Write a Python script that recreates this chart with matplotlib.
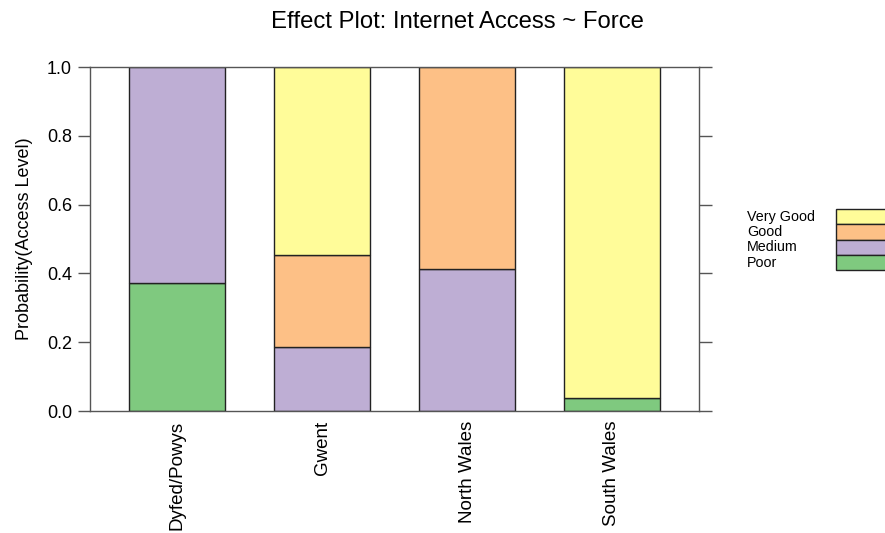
import matplotlib
matplotlib.use("Agg")
import matplotlib.pyplot as plt
from matplotlib.patches import Rectangle
import numpy as np

plt.rcParams['font.family'] = ['Liberation Sans', 'DejaVu Sans']

forces = ["Dyfed/Powys", "Gwent", "North Wales", "South Wales"]
levels = ["Poor", "Medium", "Good", "Very Good"]
poor = [0.373, 0.0, 0.0, 0.038]
medium = [0.627, 0.187, 0.414, 0.0]
good = [0.0, 0.267, 0.586, 0.0]
very_good = [0.0, 0.546, 0.0, 0.962]
colors = {"Poor": "#7FC97F", "Medium": "#BEAED4", "Good": "#FDC086", "Very Good": "#FFFC99"}
yticks = [0.0, 0.2, 0.4, 0.6, 0.8, 1.0]

series = {"Poor": poor, "Medium": medium, "Good": good, "Very Good": very_good}

fig = plt.figure(figsize=(8.85, 5.33), dpi=100)
ax = fig.add_axes([90 / 885, 1 - 411 / 533, 609 / 885, 344 / 533])

x = np.arange(len(forces))
bottom = np.zeros(len(forces))
for lvl in levels:
    vals = np.array(series[lvl])
    mask = vals > 0
    ax.bar(x[mask], vals[mask], bottom=bottom[mask], width=0.66,
           color=colors[lvl], edgecolor="#222222", linewidth=1.0, zorder=2)
    bottom += vals

ax.set_xlim(-0.6, 3.6)
ax.set_ylim(0, 1)
ax.set_xticks(x)
ax.set_xticklabels(forces, rotation=90, fontsize=13.5)
ax.set_yticks(yticks)
ax.set_yticklabels([f"{v:.1f}" for v in yticks], fontsize=13)
ax.tick_params(axis="x", length=0, pad=7)
ax.tick_params(axis="y", direction="out", length=9, width=1, color="#555555",
               right=True, left=True, pad=4)
for s in ax.spines.values():
    s.set_color("#555555")
    s.set_linewidth(1.0)
ax.set_ylabel("Probability(Access Level)", fontsize=13, labelpad=10)
fig.text(457 / 885, 1 - 22 / 533, "Effect Plot: Internet Access ~ Force",
         ha="center", va="center", fontsize=17.2)

# legend key drawn in figure coordinates, boxes run to the right edge
legend_order = ["Very Good", "Good", "Medium", "Poor"]
top_px = 209
h_px = 15.3
for i, lvl in enumerate(legend_order):
    y0 = top_px + i * h_px
    fig.text(747 / 885, 1 - (y0 + h_px / 2) / 533, lvl, ha="left", va="center",
             fontsize=10.3)
    fig.add_artist(Rectangle((836 / 885, 1 - (y0 + h_px) / 533), 80 / 885, h_px / 533,
                             transform=fig.transFigure, facecolor=colors[lvl],
                             edgecolor="#222222", linewidth=1.0))

fig.savefig("out.png", dpi=100)
